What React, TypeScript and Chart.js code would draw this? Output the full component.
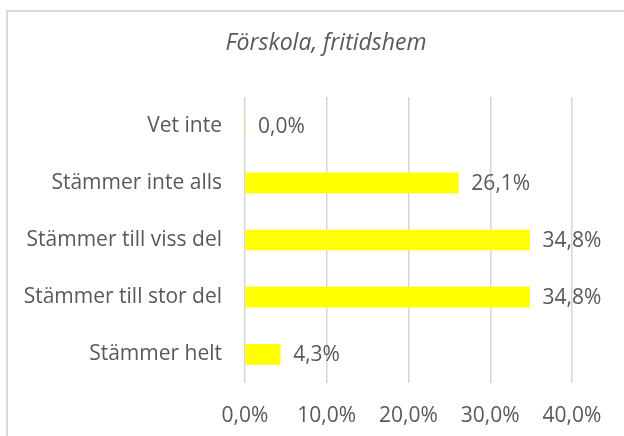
import React, { useEffect, useRef } from "react";
import { Chart, registerables } from "chart.js";

Chart.register(...registerables);

const categories = [
  "Vet inte",
  "Stämmer inte alls",
  "Stämmer till viss del",
  "Stämmer till stor del",
  "Stämmer helt",
];
const values = [0.0, 26.1, 34.8, 34.8, 4.3];
const titleText = "Förskola, fritidshem";
const axisMin = 0;
const axisMax = 40;
const axisStep = 10;

const TEXT = "#595959";
const FONT = "'Open Sans', sans-serif";

const fmt = (v: number) => v.toFixed(1).replace(".", ",") + "%";

export default function App() {
  const ref = useRef<HTMLCanvasElement | null>(null);

  useEffect(() => {
    if (!ref.current) return;
    const titlePlugin = {
      id: "customTitle",
      afterDraw(chart: any) {
        const ctx = chart.ctx;
        ctx.save();
        ctx.font = `italic 23px ${FONT}`;
        ctx.fillStyle = TEXT;
        ctx.textAlign = "center";
        ctx.textBaseline = "middle";
        ctx.fillText(titleText, 326, 43);
        ctx.restore();
      },
    };
    const valueLabels = {
      id: "valueLabels",
      afterDatasetsDraw(chart: any) {
        const ctx = chart.ctx;
        const meta = chart.getDatasetMeta(0);
        ctx.save();
        ctx.font = `21px ${FONT}`;
        ctx.fillStyle = TEXT;
        ctx.textAlign = "left";
        ctx.textBaseline = "middle";
        meta.data.forEach((el: any, i: number) => {
          ctx.fillText(fmt(values[i]), el.x + 13, el.y + 1);
        });
        ctx.restore();
      },
    };
    const chart = new Chart(ref.current, {
      type: "bar",
      data: {
        labels: categories,
        datasets: [
          {
            data: values,
            backgroundColor: "#FFFF00",
            borderWidth: 0,
            barThickness: 20,
          },
        ],
      },
      options: {
        indexAxis: "y",
        animation: false,
        responsive: false,
        maintainAspectRatio: false,
        layout: { padding: { top: 97, right: 52, bottom: 0, left: 0 } },
        plugins: {
          legend: { display: false },
          tooltip: { enabled: false },
          title: { display: false },
        },
        scales: {
          x: {
            min: axisMin,
            max: axisMax,
            grid: { color: "#d6d6d6", lineWidth: 1.5, drawTicks: false },
            border: { display: false },
            ticks: {
              stepSize: axisStep,
              padding: 20,
              color: TEXT,
              font: { family: FONT, size: 21 },
              callback: (v: any) => fmt(Number(v)),
            },
            afterFit: (s: any) => {
              s.height = 53;
            },
          },
          y: {
            grid: { display: false, drawTicks: false },
            border: { display: false },
            ticks: {
              padding: 23,
              color: TEXT,
              font: { family: FONT, size: 21 },
            },
            afterFit: (s: any) => {
              s.width = 245;
            },
          },
        },
      },
      plugins: [titlePlugin, valueLabels],
    });
    return () => chart.destroy();
  }, []);

  return (
    <div
      style={{
        position: "fixed",
        left: 0,
        top: 0,
        width: 624,
        height: 436,
        background: "#fff",
        overflow: "hidden",
      }}
    >
      <div
        style={{
          position: "absolute",
          left: 6,
          top: 10,
          width: 700,
          height: 600,
          borderLeft: "2px solid #d9d9d9",
          borderTop: "2px solid #d9d9d9",
        }}
      />
      <canvas
        ref={ref}
        width={624}
        height={436}
        style={{ position: "absolute", left: 0, top: 0, width: 624, height: 436 }}
      />
    </div>
  );
}
